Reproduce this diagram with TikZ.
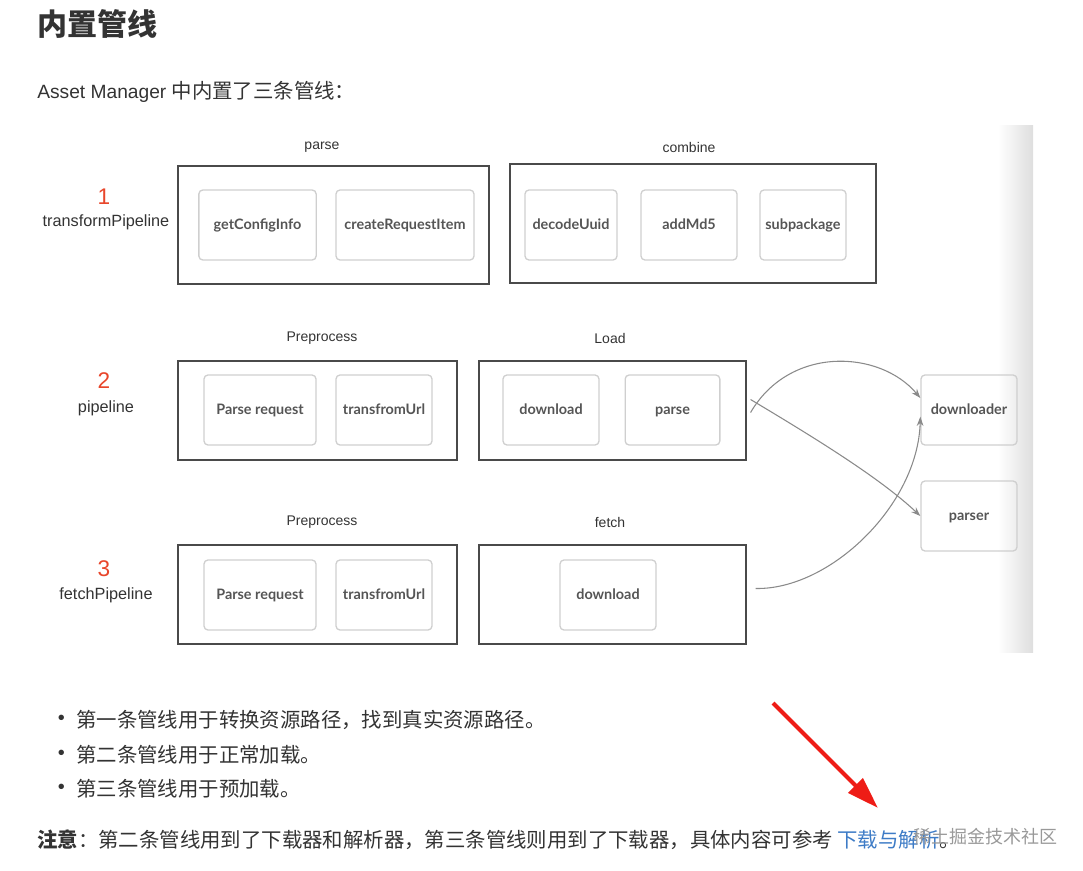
\documentclass[tikz,border=0pt]{standalone}
\usepackage{fontspec}
\setmainfont{Liberation Sans}
\newfontfamily\cjk{Noto Sans CJK SC}
\newfontfamily\boxfont{Lato}
\usepackage{xcolor}
\usetikzlibrary{arrows.meta,positioning,calc}
\definecolor{txtdark}{HTML}{333333}
\definecolor{cadre}{HTML}{4A4A4A}
\definecolor{cadreclair}{HTML}{CFCFCF}
\definecolor{etiq}{HTML}{555555}
\definecolor{numrouge}{HTML}{E8462B}
\definecolor{lien}{HTML}{3D7BC6}
\definecolor{fleche}{HTML}{8A8A8A}
\definecolor{rougevif}{HTML}{EE1C16}

\begin{document}
\begin{tikzpicture}[
    x=0.75pt,y=-0.75pt,
    etape/.style  = {rectangle,draw=cadre,line width=1.1pt,minimum height=74pt},
    tache/.style  = {rectangle,rounded corners=3pt,draw=cadreclair,line width=1pt,
                     minimum height=52.5pt,text=etiq,text height=1.6ex,text depth=0.3ex,
                     inner sep=2pt,font=\boxfont\bfseries\fontsize{10.8}{12}\selectfont},
    titre/.style  = {font=\fontsize{10.5}{12}\selectfont,text=txtdark},
    num/.style    = {font=\fontsize{17}{19}\selectfont,text=numrouge},
    nom/.style    = {font=\fontsize{12.2}{14}\selectfont,text=txtdark},
    corps/.style  = {font=\cjk\fontsize{15.3}{18}\selectfont,text=txtdark,
                     anchor=west,inner sep=0pt},
    fl/.style     = {-{Stealth[length=7pt,width=5pt]},fleche,line width=0.8pt},
  ]
  \useasboundingbox (0,0) rectangle (1083,871);

  % ── En-tête ─────────────────────────────────────────────────────────────
  \node[corps,font=\cjk\bfseries\fontsize{22.5}{26}\selectfont] (titreh) at (37,24) {内置管线};
  \node[corps,font=\fontsize{14.4}{17}\selectfont] (intro) at (37,92)
       {Asset Manager {\cjk\fontsize{15.3}{18}\selectfont 中内置了三条管线：}};

  % ── ombre à droite ──────────────────────────────────────────────────────
  \shade[left color=white,right color=black!13] (998,125) rectangle (1033,652);

  % ── Pipeline 1 ──────────────────────────────────────────────────────────
  \node[num] (n1) at (104,197) {1};
  \node[nom] (p1) at (106,222) {transformPipeline};
  \node[titre] at (322,147) {parse};
  \node[etape,minimum width=233pt,minimum height=88.5pt] (parse) at (333.5,225) {};
  \node[tache,minimum width=88pt] (cfg) at (257.5,225) {getConfigInfo};
  \node[tache,minimum width=103.5pt] (req) at (405,225) {createRequestItem};
  \node[titre] at (689,147) {combine};
  \node[etape,minimum width=274.5pt,minimum height=89pt] (combine) at (693,223.5) {};
  \node[tache,minimum width=69pt] (uuid) at (571,225) {decodeUuid};
  \node[tache,minimum width=72pt] (md5) at (689,225) {addMd5};
  \node[tache,minimum width=64.5pt] (sub) at (803,225) {subpackage};

  % ── Pipeline 2 ──────────────────────────────────────────────────────────
  \node[num] (n2) at (104,381) {2};
  \node[nom] (p2) at (106,408) {pipeline};
  \node[titre] at (322,338) {Preprocess};
  \node[etape,minimum width=209pt] (pre2) at (317.5,410.5) {};
  \node[tache,minimum width=84pt] (preq2) at (260,410) {Parse request};
  \node[tache,minimum width=72pt] (url2) at (384,410) {transfromUrl};
  \node[titre] at (610,338) {Load};
  \node[etape,minimum width=200pt] (load) at (612.5,410.5) {};
  \node[tache,minimum width=72pt] (dl2) at (551,410) {download};
  \node[tache,minimum width=71pt] (ps2) at (672.5,410) {parse};

  % ── Pipeline 3 ──────────────────────────────────────────────────────────
  \node[num] (n3) at (104,569) {3};
  \node[nom] (p3) at (106,595) {fetchPipeline};
  \node[titre] at (322,522) {Preprocess};
  \node[etape,minimum width=209pt] (pre3) at (317.5,594.5) {};
  \node[tache,minimum width=84pt] (preq3) at (260,595) {Parse request};
  \node[tache,minimum width=72pt] (url3) at (384,595) {transfromUrl};
  \node[titre] at (610,522) {fetch};
  \node[etape,minimum width=200pt] (fetch) at (612.5,594.5) {};
  \node[tache,minimum width=72pt] (dl3) at (608,595) {download};

  % ── Outils ──────────────────────────────────────────────────────────────
  \node[tache,minimum width=72pt] (downloader) at (969,410) {downloader};
  \node[tache,minimum width=72pt] (parser) at (969,516) {parser};

  % ── Flux ────────────────────────────────────────────────────────────────
  \draw[fl] ([shift={(4,2)}]load.east) .. controls (790,345) and (880,350)
            .. ([yshift=9pt]downloader.west);
  \draw[fl] ([shift={(4,-11)}]load.east) .. controls (815,438) and (880,478)
            .. (parser.west);
  \draw[fl] ([shift={(9,-6)}]fetch.east) .. controls (830,590) and (918,505)
            .. ([yshift=-5pt]downloader.west);

  % ── Texte ───────────────────────────────────────────────────────────────
  \node[corps] (b1) at (76,720) {第一条管线用于转换资源路径，找到真实资源路径。};
  \node[corps] (b2) at (76,755) {第二条管线用于正常加载。};
  \node[corps] (b3) at (76,789) {第三条管线用于预加载。};
  \foreach \b in {b1,b2,b3}
    \node[font=\fontsize{15}{16}\selectfont,text=txtdark,inner sep=0pt,
          anchor=center] at ([xshift=-11pt]\b.west) {•};
  \node[corps] (note) at (37,840)
       {{\bfseries 注意}：第二条管线用到了下载器和解析器，第三条管线则用到了下载器，具体内容可参考 {\color{lien}下载与解析}。};
  \node[font=\cjk\fontsize{13.5}{16}\selectfont,text=black!40,anchor=east,inner sep=0pt]
       (marque) at (1058,837) {稀土掘金技术社区};

  % ── Flèche rouge ────────────────────────────────────────────────────────
  \coordinate (rq) at (773,703);
  \coordinate (rp) at (878,808);
  \draw[rougevif,line width=3pt,-{Triangle[length=24pt,width=15pt]}] (rq) -- (rp);

\end{tikzpicture}
\end{document}
